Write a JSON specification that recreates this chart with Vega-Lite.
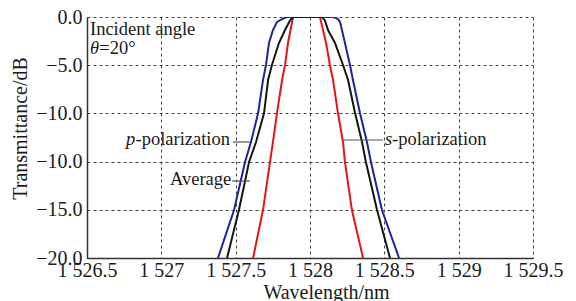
{
  "$schema": "https://vega.github.io/schema/vega-lite/v6.json",
  "width": 446,
  "height": 241,
  "autosize": "none",
  "padding": {"left": 87, "top": 17, "right": 43, "bottom": 43},
  "background": "white",
  "config": {
    "view": {"stroke": null},
    "axis": {
      "grid": true,
      "gridDash": [3, 3],
      "gridColor": "#444444",
      "gridWidth": 1,
      "domainColor": "#333333",
      "domainWidth": 1.5,
      "ticks": false,
      "labelFont": "Liberation Serif",
      "labelFontSize": 20,
      "labelColor": "#1a1a1a",
      "titleFont": "Liberation Serif",
      "titleFontSize": 20,
      "titleFontWeight": "normal",
      "titleColor": "#1a1a1a",
      "labelOverlap": false,
      "labelBound": false
    }
  },
  "datasets": {
    "curves": [
      {"pol": "p", "wl": 1527.381, "t": -20},
      {"pol": "p", "wl": 1527.489, "t": -16.02},
      {"pol": "p", "wl": 1527.563, "t": -12.03},
      {"pol": "p", "wl": 1527.603, "t": -10.37},
      {"pol": "p", "wl": 1527.651, "t": -7.97},
      {"pol": "p", "wl": 1527.684, "t": -5.23},
      {"pol": "p", "wl": 1527.704, "t": -3.98},
      {"pol": "p", "wl": 1527.724, "t": -2.16},
      {"pol": "p", "wl": 1527.751, "t": -1.08},
      {"pol": "p", "wl": 1527.778, "t": -0.41},
      {"pol": "p", "wl": 1527.812, "t": -0.17},
      {"pol": "p", "wl": 1527.845, "t": 0},
      {"pol": "p", "wl": 1528.148, "t": 0},
      {"pol": "p", "wl": 1528.168, "t": -0.05},
      {"pol": "p", "wl": 1528.188, "t": -0.17},
      {"pol": "p", "wl": 1528.202, "t": -0.41},
      {"pol": "p", "wl": 1528.215, "t": -1.08},
      {"pol": "p", "wl": 1528.235, "t": -2.16},
      {"pol": "p", "wl": 1528.269, "t": -3.98},
      {"pol": "p", "wl": 1528.289, "t": -5.23},
      {"pol": "p", "wl": 1528.336, "t": -7.97},
      {"pol": "p", "wl": 1528.383, "t": -10.37},
      {"pol": "p", "wl": 1528.41, "t": -12.03},
      {"pol": "p", "wl": 1528.484, "t": -16.02},
      {"pol": "p", "wl": 1528.599, "t": -20},
      {"pol": "avg", "wl": 1527.442, "t": -20},
      {"pol": "avg", "wl": 1527.522, "t": -16.02},
      {"pol": "avg", "wl": 1527.59, "t": -12.03},
      {"pol": "avg", "wl": 1527.637, "t": -10.37},
      {"pol": "avg", "wl": 1527.691, "t": -7.97},
      {"pol": "avg", "wl": 1527.718, "t": -5.23},
      {"pol": "avg", "wl": 1527.744, "t": -3.98},
      {"pol": "avg", "wl": 1527.791, "t": -2.16},
      {"pol": "avg", "wl": 1527.832, "t": -1.08},
      {"pol": "avg", "wl": 1527.865, "t": -0.3},
      {"pol": "avg", "wl": 1527.886, "t": 0},
      {"pol": "avg", "wl": 1528.081, "t": 0},
      {"pol": "avg", "wl": 1528.101, "t": -0.3},
      {"pol": "avg", "wl": 1528.121, "t": -1.08},
      {"pol": "avg", "wl": 1528.168, "t": -2.16},
      {"pol": "avg", "wl": 1528.222, "t": -3.98},
      {"pol": "avg", "wl": 1528.256, "t": -5.23},
      {"pol": "avg", "wl": 1528.303, "t": -7.97},
      {"pol": "avg", "wl": 1528.35, "t": -10.37},
      {"pol": "avg", "wl": 1528.376, "t": -12.03},
      {"pol": "avg", "wl": 1528.451, "t": -16.02},
      {"pol": "avg", "wl": 1528.538, "t": -20},
      {"pol": "s", "wl": 1527.617, "t": -20},
      {"pol": "s", "wl": 1527.684, "t": -16.02},
      {"pol": "s", "wl": 1527.731, "t": -12.03},
      {"pol": "s", "wl": 1527.751, "t": -10.37},
      {"pol": "s", "wl": 1527.778, "t": -7.97},
      {"pol": "s", "wl": 1527.812, "t": -5.23},
      {"pol": "s", "wl": 1527.832, "t": -3.98},
      {"pol": "s", "wl": 1527.852, "t": -2.16},
      {"pol": "s", "wl": 1527.886, "t": 0},
      {"pol": "s", "wl": 1528.067, "t": 0},
      {"pol": "s", "wl": 1528.108, "t": -2.16},
      {"pol": "s", "wl": 1528.134, "t": -3.98},
      {"pol": "s", "wl": 1528.155, "t": -5.23},
      {"pol": "s", "wl": 1528.188, "t": -7.97},
      {"pol": "s", "wl": 1528.222, "t": -10.37},
      {"pol": "s", "wl": 1528.235, "t": -12.03},
      {"pol": "s", "wl": 1528.282, "t": -16.02},
      {"pol": "s", "wl": 1528.357, "t": -20}
    ],
    "texts": [
      {"x": 1526.52, "y": -1.5, "label": "Incident angle", "italic": false, "size": 18.5},
      {"x": 1526.52, "y": -3.05, "label": "θ", "italic": true, "size": 18.5},
      {"x": 1526.583, "y": -3.05, "label": "=20°", "italic": false, "size": 18.5},
      {"x": 1526.762, "y": -10.622, "label": "p", "italic": true, "size": 18.5},
      {"x": 1526.826, "y": -10.622, "label": "-polarization", "italic": false, "size": 18.5},
      {"x": 1527.058, "y": -13.942, "label": "Average", "italic": false, "size": 18.5},
      {"x": 1528.504, "y": -10.622, "label": "s", "italic": true, "size": 18.5},
      {"x": 1528.552, "y": -10.622, "label": "-polarization", "italic": false, "size": 18.5}
    ],
    "pointers": [
      {"x1": 1527.482, "x2": 1527.596, "y": -10.373},
      {"x1": 1527.475, "x2": 1527.596, "y": -13.61},
      {"x1": 1528.222, "x2": 1528.491, "y": -10.207}
    ]
  },
  "layer": [
    {
      "data": {"name": "curves"},
      "transform": [{"filter": "datum.pol == 'p'"}],
      "mark": {"type": "line", "color": "#22229a", "strokeWidth": 2, "clip": true},
      "encoding": {
        "x": {
          "field": "wl", "type": "quantitative",
          "scale": {"domain": [1526.5, 1529.5], "nice": false, "zero": false},
          "axis": {
            "values": [1526.5, 1527, 1527.5, 1528, 1528.5, 1529, 1529.5],
            "labelExpr": "'1 ' + substring(toString(datum.value), 1)",
            "labelFlush": false,
            "labelPadding": 2,
            "title": "Wavelength/nm",
            "titleX": 239,
            "titleY": 40,
            "titleBaseline": "alphabetic",
            "titleAlign": "center"
          }
        },
        "y": {
          "field": "t", "type": "quantitative",
          "scale": {"domain": [-20, 0], "nice": false, "zero": false},
          "axis": {
            "values": [0, -4, -8, -12, -16, -20],
            "labelExpr": "datum.value == 0 ? '0.0' : datum.value == -4 ? '−5.0' : datum.value == -8 ? '−10.0' : datum.value == -12 ? '−10.0' : datum.value == -16 ? '−15.0' : '−20.0'",
            "labelPadding": 5,
            "title": "Transmittance/dB",
            "titleX": -67,
            "titleY": 111,
            "titleBaseline": "middle",
            "titleAlign": "center"
          }
        }
      }
    },
    {
      "data": {"name": "curves"},
      "transform": [{"filter": "datum.pol == 's'"}],
      "mark": {"type": "line", "color": "#e3161c", "strokeWidth": 2, "clip": true},
      "encoding": {
        "x": {"field": "wl", "type": "quantitative"},
        "y": {"field": "t", "type": "quantitative"}
      }
    },
    {
      "data": {"name": "curves"},
      "transform": [{"filter": "datum.pol == 'avg'"}],
      "mark": {"type": "line", "color": "#151515", "strokeWidth": 2, "clip": true},
      "encoding": {
        "x": {"field": "wl", "type": "quantitative"},
        "y": {"field": "t", "type": "quantitative"}
      }
    },
    {
      "data": {"name": "pointers"},
      "mark": {"type": "rule", "color": "#555555", "strokeWidth": 1.2},
      "encoding": {
        "x": {"field": "x1", "type": "quantitative"},
        "x2": {"field": "x2"},
        "y": {"field": "y", "type": "quantitative"}
      }
    },
    {
      "data": {"name": "texts"},
      "transform": [{"filter": "!datum.italic"}],
      "mark": {"type": "text", "font": "Liberation Serif", "align": "left", "baseline": "alphabetic", "color": "#1a1a1a"},
      "encoding": {
        "x": {"field": "x", "type": "quantitative"},
        "y": {"field": "y", "type": "quantitative"},
        "text": {"field": "label"},
        "size": {"field": "size", "type": "quantitative", "scale": null}
      }
    },
    {
      "data": {"name": "texts"},
      "transform": [{"filter": "datum.italic"}],
      "mark": {"type": "text", "font": "Liberation Serif", "fontStyle": "italic", "align": "left", "baseline": "alphabetic", "color": "#1a1a1a"},
      "encoding": {
        "x": {"field": "x", "type": "quantitative"},
        "y": {"field": "y", "type": "quantitative"},
        "text": {"field": "label"},
        "size": {"field": "size", "type": "quantitative", "scale": null}
      }
    }
  ]
}
